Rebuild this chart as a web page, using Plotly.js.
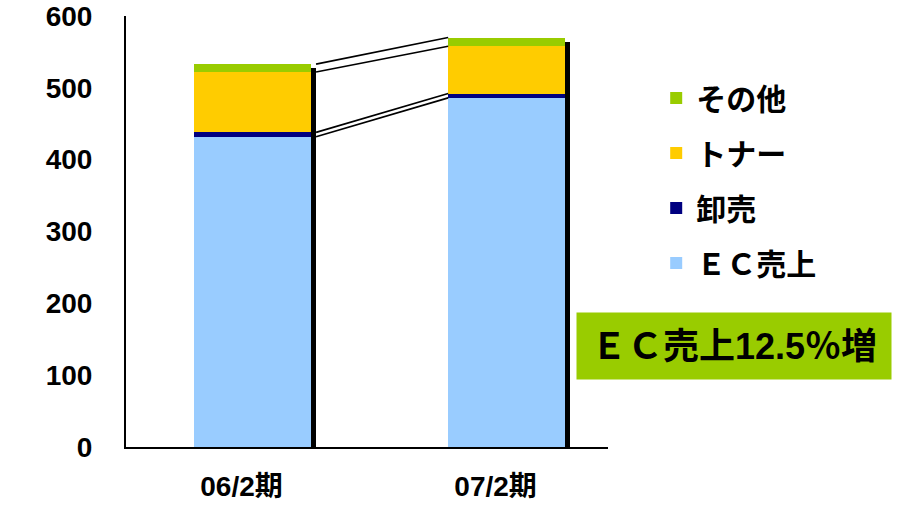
<!DOCTYPE html>
<html>
<head>
<meta charset="utf-8">
<script src="https://cdn.plot.ly/plotly-3.0.1.min.js"></script>
<style>html,body{margin:0;padding:0;background:#fff;}#chart{width:899px;height:505px;}</style>
</head>
<body>
<div id="chart"></div>
<script>
// ---- data (百万円) ----
const categories = ['06/2期', '07/2期'];
const ecSales    = [432, 486];   // ＥＣ売上
const wholesale  = [6, 6];       // 卸売
const toner      = [84, 66];     // トナー
const others     = [11, 12];     // その他
const seriesNames  = ['ＥＣ売上', '卸売', 'トナー', 'その他'];
const seriesColors = ['#99CCFF', '#000080', '#FFCC00', '#99CC00'];
const yTicks = [0, 100, 200, 300, 400, 500, 600];
const calloutText = 'ＥＣ売上12.5％増';

// ---- build ----
const series = [ecSales, wholesale, toner, others];
const idx = categories.map((c, i) => i);
const BAR_W = 0.46;
const SHADOW_DX = 0.02;
const FONT = '"Liberation Sans", Arial, "Noto Sans CJK JP", sans-serif';
const JFONT = '"Liberation Sans", "Noto Sans CJK JP", sans-serif';

const totals = idx.map(i => series.reduce((s, arr) => s + arr[i], 0));

const traces = [];
// drop shadows (drawn on a hidden, slightly shifted axis)
traces.push({
  type: 'bar', x: idx, y: totals, base: 0, width: BAR_W,
  offset: -BAR_W / 2 + SHADOW_DX,
  marker: {color: '#000000', line: {width: 0}},
  xaxis: 'x', yaxis: 'y', showlegend: false, hoverinfo: 'skip'
});
// stacked bars
series.forEach((arr, k) => {
  traces.push({
    type: 'bar', x: idx, y: arr, width: BAR_W, name: seriesNames[k],
    legendgroup: 'g' + k, legendrank: series.length - k,
    marker: {color: seriesColors[k], line: {width: 0}},
    xaxis: 'x', yaxis: 'y2'
  });
});
// series lines connecting each stack boundary
let cum = idx.map(() => 0);
series.forEach((arr) => {
  cum = cum.map((v, i) => v + arr[i]);
  traces.push({
    type: 'scatter', mode: 'lines',
    x: [idx[0] + BAR_W / 2 + SHADOW_DX, idx[1] - BAR_W / 2],
    y: [cum[0], cum[1]],
    line: {color: '#000000', width: 1.6},
    xaxis: 'x', yaxis: 'y2', showlegend: false, hoverinfo: 'skip'
  });
});

const layout = {
  width: 899, height: 505,
  margin: {l: 126, r: 291, t: 16, b: 58},
  paper_bgcolor: '#ffffff', plot_bgcolor: 'rgba(0,0,0,0)',
  barmode: 'stack',
  showlegend: true,
  font: {family: FONT, color: '#000000'},
  xaxis: {
    range: [-0.498, 1.399], tickvals: idx, ticktext: categories,
    showline: true, linecolor: '#000000', linewidth: 2,
    showgrid: false, zeroline: false, ticks: '',
    ticklabelstandoff: 13, ticklabelshift: -11,
    tickfont: {family: JFONT, size: 28, color: '#000000', weight: 'bold'},
    fixedrange: true
  },
  yaxis: {
    range: [5.6, 605.6], visible: false, showgrid: false, zeroline: false, fixedrange: true
  },
  yaxis2: {
    overlaying: 'y', anchor: 'x', side: 'left',
    range: [0, 600], tickvals: yTicks,
    showline: true, linecolor: '#000000', linewidth: 2,
    showgrid: false, zeroline: false, ticks: '',
    ticklabelstandoff: 26,
    tickfont: {family: FONT, size: 28, color: '#000000', weight: 'bold'},
    fixedrange: true
  },
  legend: {
    x: 1.10, xanchor: 'left', y: 0.87, yanchor: 'top',
    traceorder: 'grouped', tracegroupgap: 13,
    font: {family: JFONT, size: 30, color: '#000000', weight: 'bold'},
    bgcolor: 'rgba(0,0,0,0)'
  },
  annotations: [{
    xref: 'paper', yref: 'paper', x: 0.934, y: 0.234,
    xanchor: 'left', yanchor: 'middle',
    text: calloutText, showarrow: false,
    bgcolor: '#99CC00', width: 310, height: 62, borderpad: 2, align: 'center',
    font: {family: JFONT, size: 36, color: '#000000', weight: 'bold'}
  }]
};

Plotly.newPlot('chart', traces, layout, {displayModeBar: false, staticPlot: true});
</script>
</body>
</html>
